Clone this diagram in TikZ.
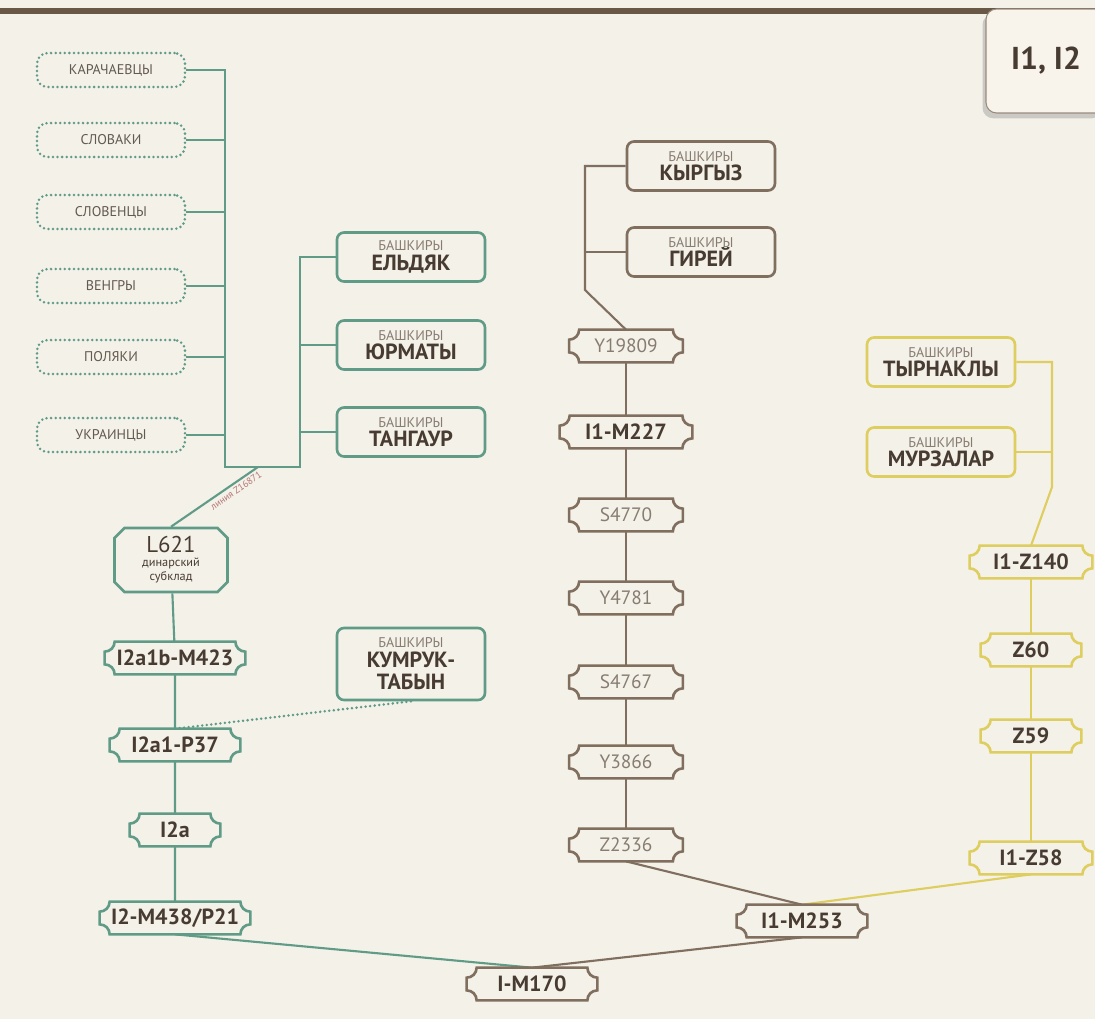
\documentclass[tikz,border=0pt]{standalone}
\usepackage{fontspec}
\setmainfont{PT Sans}
\usetikzlibrary{shapes.misc,shadows}

\definecolor{bgc}{RGB}{244,241,233}
\definecolor{barc}{RGB}{105,88,70}
\definecolor{tabc}{RGB}{248,244,236}
\definecolor{greenc}{RGB}{95,155,135}
\definecolor{brownc}{RGB}{128,110,94}
\definecolor{yellowc}{RGB}{222,205,95}
\definecolor{textc}{RGB}{72,60,50}
\definecolor{lightc}{RGB}{135,124,114}
\definecolor{redc}{RGB}{180,118,118}

% concave corners of the haplogroup frames
\newcommand\tkr{0.2cm}
\newcommand\tkk{0.11cm}
\newcommand\ticket[2]{%
  \draw[#2, line width=1.5pt]
    ([xshift=\tkr]#1.north west) -- ([xshift=-\tkr]#1.north east)
    .. controls ([xshift=-\tkr,yshift=-\tkk]#1.north east) and ([xshift=-\tkk,yshift=-\tkr]#1.north east) .. ([yshift=-\tkr]#1.north east)
    -- ([yshift=\tkr]#1.south east)
    .. controls ([xshift=-\tkk,yshift=\tkr]#1.south east) and ([xshift=-\tkr,yshift=\tkk]#1.south east) .. ([xshift=-\tkr]#1.south east)
    -- ([xshift=\tkr]#1.south west)
    .. controls ([xshift=\tkr,yshift=\tkk]#1.south west) and ([xshift=\tkk,yshift=\tkr]#1.south west) .. ([yshift=\tkr]#1.south west)
    -- ([yshift=-\tkr]#1.north west)
    .. controls ([xshift=\tkk,yshift=-\tkr]#1.north west) and ([xshift=\tkr,yshift=-\tkk]#1.north west) .. ([xshift=\tkr]#1.north west)
    -- cycle;}
\newcommand\bashk[1]{{\fontsize{8}{8}\selectfont\mdseries\color{lightc}БАШКИРЫ}\\[-2pt]#1}

\begin{document}
\begin{tikzpicture}[x=0.02cm, y=-0.02cm,
  link/.style={draw=#1, line width=1.2pt},
  dotbox/.style={draw=greenc, line width=1.6pt, dash pattern=on 0pt off 2.6pt, line cap=round,
    rounded corners=6pt, minimum width=2.96cm, minimum height=0.68cm,
    font=\fontsize{8}{8}\selectfont, text=textc!85},
  tribe/.style={draw=#1, line width=1.5pt, rounded corners=4pt, fill=bgc, minimum width=2.96cm,
    minimum height=0.98cm, inner sep=1pt, align=center, font=\fontsize{12.5}{13}\selectfont\bfseries, text=textc},
  snp/.style={minimum width=#1, minimum height=0.64cm, inner sep=0pt,
    font=\fontsize{12.5}{13}\selectfont\bfseries, text=textc},
  snpl/.style={snp=#1, font=\fontsize{11}{12}\selectfont, text=lightc},
  tab/.style={draw=brownc!80, fill=tabc, line width=0.6pt, rounded corners=6pt, minimum width=2.4cm,
    minimum height=2.08cm, font=\fontsize{18}{18}\selectfont\bfseries, text=textc,
    drop shadow={shadow xshift=-2pt, shadow yshift=-3pt, opacity=0.35}}]
  \fill[bgc] (0,0) rectangle (1095,1019);
  \useasboundingbox (0,0) rectangle (1095,1019);
  \fill[barc] (0,8) rectangle (1095,14);
  \node[tab] (title) at (1046,61) {I1, I2}; %

  % I2 branch
  \foreach \nm/\yy/\txt in {kar/70/КАРАЧАЕВЦЫ, slk/140/СЛОВАКИ, sln/212/СЛОВЕНЦЫ,
      ven/286/ВЕНГРЫ, pol/357/ПОЛЯКИ, ukr/435/УКРАИНЦЫ}
    \node[dotbox] (\nm) at (111,\yy) {\txt}; %
  \node[tribe=greenc] (eld) at (411,257) {\bashk{ЕЛЬДЯК}}; %
  \node[tribe=greenc] (yur) at (411,345) {\bashk{ЮРМАТЫ}}; %
  \node[tribe=greenc] (tan) at (411,432) {\bashk{ТАНГАУР}}; %
  \node[tribe=greenc, minimum height=1.44cm] (kum) at (411,664) {\bashk{КУМРУК-\\ТАБЫН}}; %
  \node[draw=greenc, line width=1.5pt, chamfered rectangle, chamfered rectangle sep=0.1cm,
    minimum width=2.26cm, minimum height=1.28cm, inner sep=1pt, align=center,
    font=\fontsize{7}{8}\selectfont, text=textc] (l621) at (171,560)
    {{\fontsize{13}{13}\selectfont L621}\\динарский\\субклад}; %
  \node[snp=2.8cm] (m423) at (175,658) {I2a1b-M423}; %
  \node[snp=2.6cm] (p37) at (175,745) {I2a1-P37}; %
  \node[snp=1.8cm] (i2a) at (175,830) {I2a}; %
  \node[snp=3.0cm] (m438) at (175,918) {I2-M438/P21}; %
  \coordinate (gj) at (225,467); %
  \coordinate (gk) at (300,467); %
  \coordinate (gd) at (258,467); %

  % I1 branch
  \node[tribe=brownc] (kyr) at (701,166) {\bashk{КЫРГЫЗ}}; %
  \node[tribe=brownc] (gir) at (701,252) {\bashk{ГИРЕЙ}}; %
  \coordinate (bk) at (585,290); %
  \node[snpl=2.26cm] (y19809) at (626,346) {Y19809}; %
  \node[snp=2.64cm] (m227) at (626,432) {I1-M227}; %
  \node[snpl=2.26cm] (s4770) at (626,515) {S4770}; %
  \node[snpl=2.26cm] (y4781) at (626,598) {Y4781}; %
  \node[snpl=2.26cm] (s4767) at (626,682) {S4767}; %
  \node[snpl=2.26cm] (y3866) at (626,762) {Y3866}; %
  \node[snpl=2.26cm] (z2336) at (626,845) {Z2336}; %
  \node[tribe=yellowc] (tyr) at (941,362) {\bashk{ТЫРНАКЛЫ}}; %
  \node[tribe=yellowc] (mur) at (941,452) {\bashk{МУРЗАЛАР}}; %
  \coordinate (yk) at (1052,487); %
  \node[snp=2.44cm] (z140) at (1031,562) {I1-Z140}; %
  \node[snp=2.0cm] (z60) at (1031,650) {Z60}; %
  \node[snp=2.0cm] (z59) at (1031,736) {Z59}; %
  \node[snp=2.44cm] (z58) at (1031,858) {I1-Z58}; %
  \node[snp=2.6cm] (m253) at (802,921) {I1-M253}; %
  \node[snp=2.6cm] (m170) at (532,984) {I-M170}; %

  % links
  \draw[link=greenc] (kar.east) -| (gj) -- (gk) |- (eld.west); %
  \foreach \nm in {slk,sln,ven,pol,ukr}
    \draw[link=greenc] (\nm.east) -- (\nm.east -| gj); %
  \foreach \nm in {yur,tan}
    \draw[link=greenc] (\nm.west) -- (\nm.west -| gk); %
  \draw[link=greenc] (l621.north) -- node[sloped, below, pos=0.7, inner sep=1.5pt,
    font=\fontsize{5.5}{6}\selectfont, text=redc] {линия Z16871} (gd); %
  \draw[link=greenc] (l621) -- (m423) -- (p37) -- (i2a) -- (m438); %
  \draw[link=greenc, line width=1.6pt, dash pattern=on 0pt off 2.6pt, line cap=round] (p37.north) -- (kum.south); %
  \draw[link=greenc] (m438.south) -- (m170.north); %
  \draw[link=brownc] (kyr.west) -| (bk) -- (y19809.north); %
  \draw[link=brownc] (gir.west) -- (gir.west -| bk); %
  \draw[link=brownc] (y19809) -- (m227) -- (s4770) -- (y4781) -- (s4767) -- (y3866) -- (z2336); %
  \draw[link=brownc] (z2336.south) -- (m253.north); %
  \draw[link=brownc] (m170.north) -- (m253.south); %
  \draw[link=yellowc] (tyr.east) -| (yk) -- (z140.north); %
  \draw[link=yellowc] (mur.east) -- (mur.east -| yk); %
  \draw[link=yellowc] (z140) -- (z60) -- (z59) -- (z58); %
  \draw[link=yellowc] (m253.north) -- (z58.south); %

  % frames
  \foreach \n in {m423,p37,i2a,m438} \ticket{\n}{greenc};
  \foreach \n in {m170,m253,y19809,m227,s4770,y4781,s4767,y3866,z2336} \ticket{\n}{brownc};
  \foreach \n in {z140,z60,z59,z58} \ticket{\n}{yellowc};
\end{tikzpicture}
\end{document}
